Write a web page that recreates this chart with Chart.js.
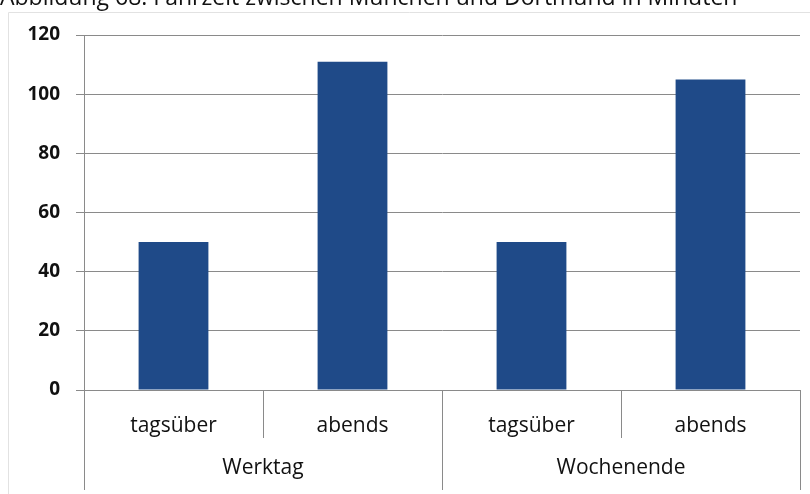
<!DOCTYPE html>
<html>
<head>
<meta charset="utf-8">
<script src="https://cdn.jsdelivr.net/npm/chart.js@4"></script>
<style>
  html, body { margin: 0; padding: 0; background: #fff; }
  #wrap { width: 810px; height: 494px; position: relative; }
</style>
</head>
<body>
<div id="wrap"><canvas id="chart"></canvas></div>
<script>
const titleText = "Abbildung 68: Fahrzeit zwischen München und Dortmund in Minuten";
const categories = ["tagsüber", "abends", "tagsüber", "abends"];
const groups = ["Werktag", "Wochenende"];
const groupSize = 2;
const minutes = [50, 111, 50, 105];
const yTicks = [0, 20, 40, 60, 80, 100, 120];

const barColor = "#1f4a88";
const gridColor = "#8a8a8a";

// draws the clipped caption, the frame, and the two-level category axis
const extrasPlugin = {
  id: "extras",
  afterDraw(chart) {
    const ctx = chart.ctx;
    const x = chart.scales.x;
    const area = chart.chartArea;
    const half = (x.getPixelForValue(1) - x.getPixelForValue(0)) / 2;

    ctx.save();

    // faint outer frame
    ctx.strokeStyle = "#e2e2e2";
    ctx.lineWidth = 1;
    ctx.beginPath();
    ctx.moveTo(8.5, 494);
    ctx.lineTo(8.5, 12.5);
    ctx.lineTo(810, 12.5);
    ctx.stroke();

    // caption, cut off at the top edge
    ctx.fillStyle = "#111";
    ctx.font = "23px 'Open Sans'";
    ctx.textBaseline = "alphabetic";
    ctx.textAlign = "left";
    ctx.fillText(titleText, 0, 5);

    ctx.strokeStyle = gridColor;
    ctx.beginPath();
    for (let i = 0; i <= categories.length; i++) {
      const px = Math.round(i < categories.length
        ? x.getPixelForValue(i) - half
        : x.getPixelForValue(i - 1) + half) + 0.5;
      const isGroupEdge = i % groupSize === 0;
      ctx.moveTo(px, area.bottom);
      ctx.lineTo(px, isGroupEdge ? 490 : 438);
    }
    ctx.stroke();

    ctx.fillStyle = "#111";
    ctx.font = "21px 'Open Sans'";
    ctx.textAlign = "center";
    ctx.textBaseline = "middle";
    groups.forEach((g, gi) => {
      const first = x.getPixelForValue(gi * groupSize) - half;
      const last = x.getPixelForValue(gi * groupSize + groupSize - 1) + half;
      ctx.fillText(g, (first + last) / 2, 468);
    });

    ctx.restore();
  }
};

new Chart(document.getElementById("chart"), {
  type: "bar",
  data: {
    labels: categories,
    datasets: [{
      data: minutes,
      backgroundColor: barColor,
      borderWidth: 0,
      categoryPercentage: 1,
      barPercentage: 0.39
    }]
  },
  options: {
    responsive: true,
    maintainAspectRatio: false,
    animation: false,
    layout: { padding: { top: 35, right: 10, left: 0, bottom: 0 } },
    plugins: {
      legend: { display: false },
      tooltip: { enabled: false }
    },
    scales: {
      x: {
        afterFit(scale) { scale.height = 104; },
        grid: { display: false },
        border: { display: true, color: gridColor, width: 1 },
        ticks: {
          color: "#111",
          font: { family: "'Open Sans'", size: 21 },
          padding: 15,
          maxRotation: 0
        }
      },
      y: {
        min: 0,
        max: 120,
        afterFit(scale) { scale.width = 84; },
        afterBuildTicks(scale) { scale.ticks = yTicks.map(v => ({ value: v })); },
        grid: {
          color: gridColor,
          lineWidth: 1,
          tickLength: 8,
          drawTicks: true
        },
        border: { display: true, color: gridColor, width: 1 },
        ticks: {
          color: "#111",
          font: { family: "'Open Sans'", size: 19, weight: "bold" },
          padding: 16
        }
      }
    }
  },
  plugins: [extrasPlugin]
});
</script>
</body>
</html>
